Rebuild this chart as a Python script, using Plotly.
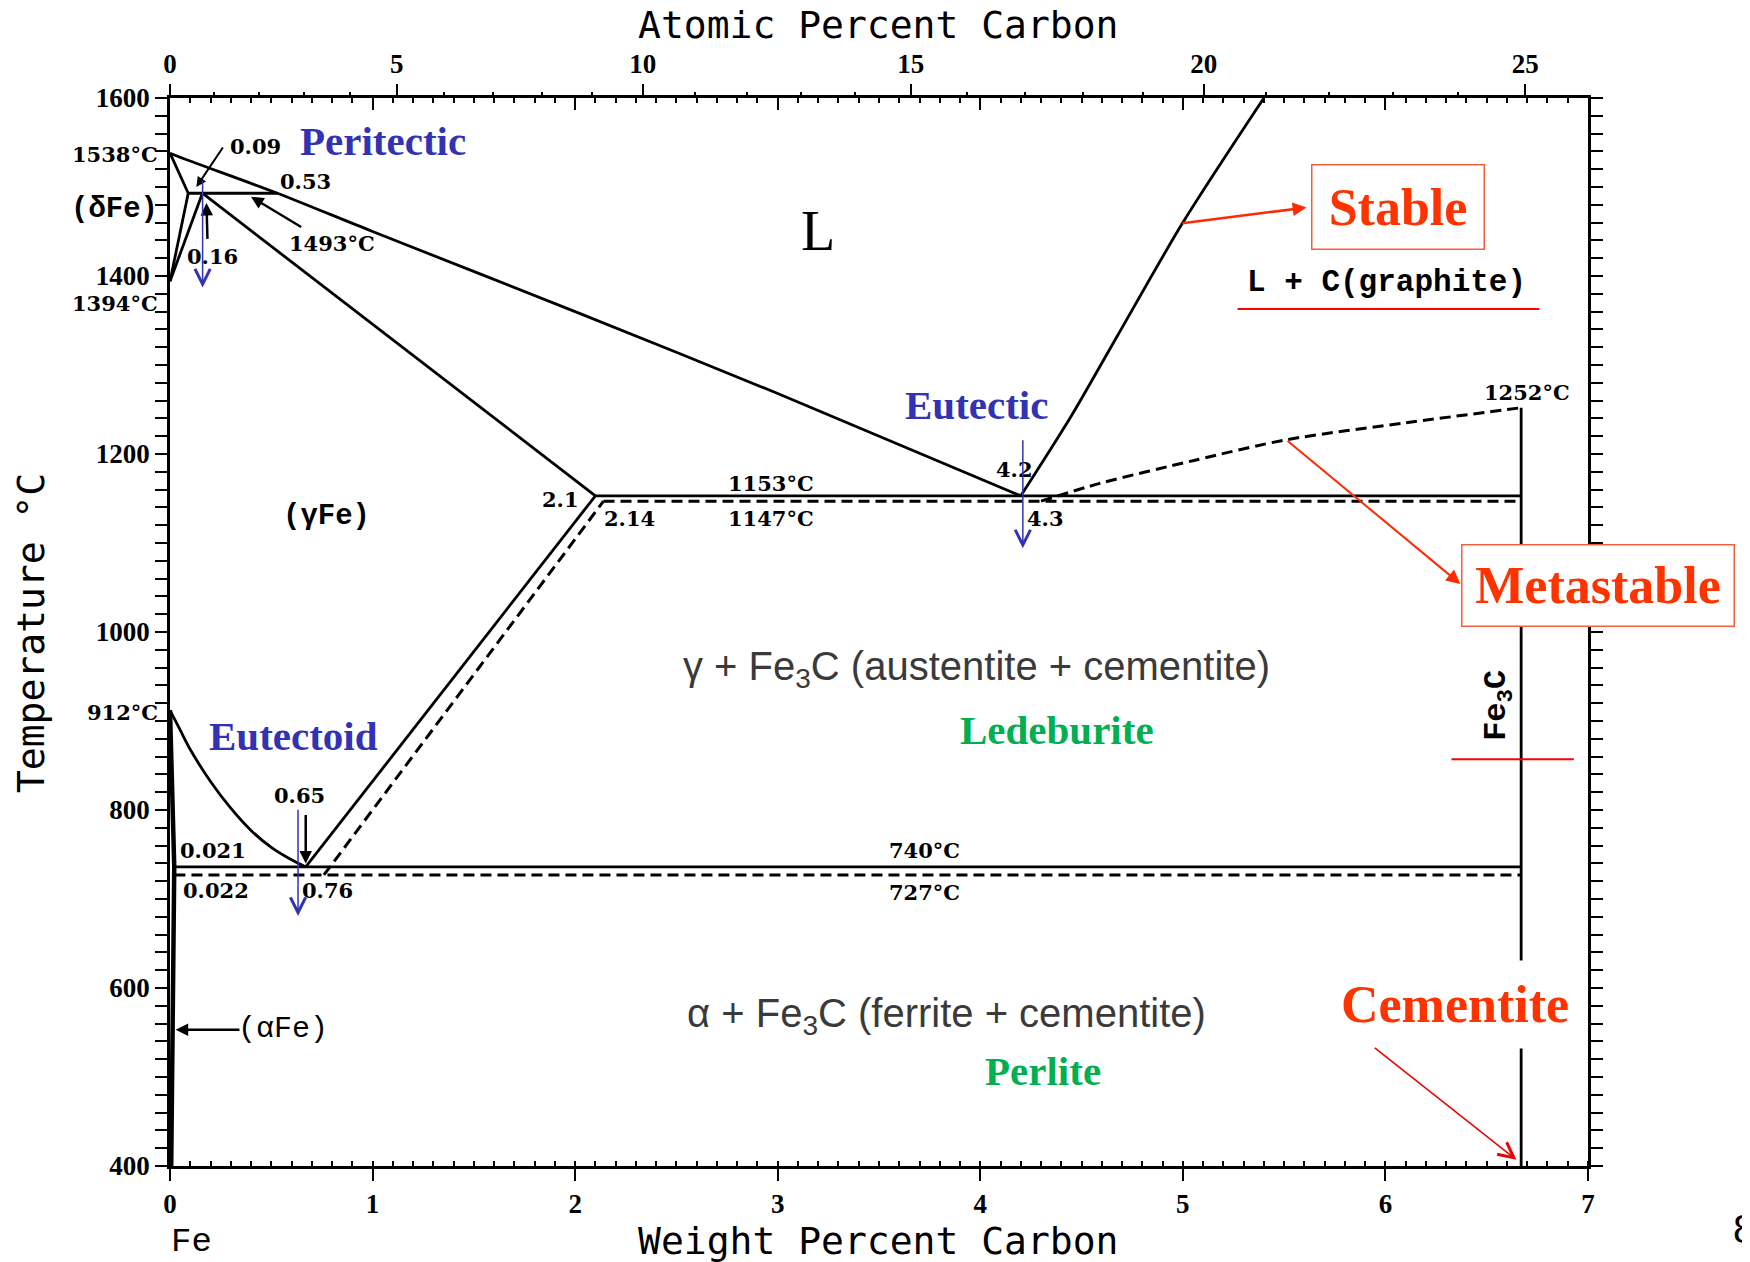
import plotly.graph_objects as go

# ---------------- phase-boundary data (weight % C, temperature in °C) ----------------
# stable system (solid lines)
liquidus_wt = [0.0, 0.09, 0.53, 1.0, 2.0, 3.0, 4.2]
liquidus_T = [1538, 1530, 1493, 1450, 1360, 1268, 1153]
delta_solidus_wt = [0.0, 0.09]
delta_solidus_T = [1538, 1493]
delta_solvus_wt = [0.0, 0.09]
delta_solvus_T = [1394, 1493]
gamma_delta_wt = [0.0, 0.16]
gamma_delta_T = [1394, 1493]
peritectic_wt = [0.09, 0.53]
peritectic_T = [1493, 1493]
gamma_solidus_wt = [0.16, 2.1]
gamma_solidus_T = [1493, 1153]
eutectic_st_wt = [2.1, 6.67]
eutectic_st_T = [1153, 1153]
graphite_liq_wt = [4.2, 4.45, 4.68, 5.0, 5.4]
graphite_liq_T = [1153, 1243, 1334, 1460, 1600]
acm_st_wt = [0.67, 2.1]
acm_st_T = [736, 1153]
a3_wt = [0.0, 0.05, 0.1, 0.2, 0.3, 0.4, 0.5, 0.6, 0.67]
a3_T = [912, 890, 868, 832, 802, 777, 758, 744, 736]
eutectoid_st_wt = [0.021, 6.67]
eutectoid_st_T = [736, 736]
alpha_wt = [0.0, 0.021, 0.006]
alpha_T = [912, 736, 400]
fe3c_wt = [6.67, 6.67]
fe3c_T = [400, 1252]

# metastable system (dashed lines)
eutectic_ms_wt = [2.14, 6.67]
eutectic_ms_T = [1147, 1147]
fe3c_liq_wt = [4.3, 4.59, 5.06, 5.51, 6.1, 6.67]
fe3c_liq_T = [1147, 1167, 1193, 1216, 1235, 1252]
acm_ms_wt = [0.76, 2.14]
acm_ms_T = [727, 1147]
eutectoid_ms_wt = [0.022, 6.67]
eutectoid_ms_T = [727, 727]

# axes
wt_ticks = [0, 1, 2, 3, 4, 5, 6, 7]
T_ticks = [400, 600, 800, 1000, 1200, 1400, 1600]
at_major = [0, 5, 10, 15, 20, 25]
at_minor = list(range(0, 27))

M_C, M_FE = 12.011, 55.845


def at_to_wt(a):
    return 100.0 * a * M_C / (a * M_C + (100.0 - a) * M_FE)


solid = [(liquidus_wt, liquidus_T, "spline"), (delta_solidus_wt, delta_solidus_T, "linear"),
         (delta_solvus_wt, delta_solvus_T, "linear"), (gamma_delta_wt, gamma_delta_T, "linear"),
         (peritectic_wt, peritectic_T, "linear"), (gamma_solidus_wt, gamma_solidus_T, "linear"),
         (eutectic_st_wt, eutectic_st_T, "linear"), (graphite_liq_wt, graphite_liq_T, "spline"),
         (acm_st_wt, acm_st_T, "linear"), (a3_wt, a3_T, "spline"),
         (eutectoid_st_wt, eutectoid_st_T, "linear"), (fe3c_wt, fe3c_T, "linear")]
dashed = [(eutectic_ms_wt, eutectic_ms_T, "linear"), (fe3c_liq_wt, fe3c_liq_T, "spline"),
          (acm_ms_wt, acm_ms_T, "linear"), (eutectoid_ms_wt, eutectoid_ms_T, "linear")]

fig = go.Figure()
for xs, ys, shp in solid:
    fig.add_trace(go.Scatter(x=xs, y=ys, mode="lines",
                             line=dict(color="black", width=2.8, shape=shp, smoothing=0.8),
                             hoverinfo="skip", showlegend=False))
fig.add_trace(go.Scatter(x=alpha_wt, y=alpha_T, mode="lines", line=dict(color="black", width=4.5),
                         hoverinfo="skip", showlegend=False))
for xs, ys, shp in dashed:
    fig.add_trace(go.Scatter(x=xs, y=ys, mode="lines",
                             line=dict(color="black", width=3, dash="11px,6px", shape=shp,
                                       smoothing=0.8),
                             hoverinfo="skip", showlegend=False))
# dummy traces so that the top (atomic %) axes are drawn
for ax in ["x2", "x3", "x4"]:
    fig.add_trace(go.Scatter(x=[None], y=[None], xaxis=ax, yaxis="y", showlegend=False,
                             hoverinfo="skip"))

TICKFONT = dict(family="Liberation Serif", size=27, color="black", weight="bold")
# the page body adds an 8px offset; margins compensate so that the plot area
# sits at x 170-1588, y 98-1166 of the window
fig.update_layout(
    width=1750, height=1262,
    margin=dict(l=162, r=170, t=90, b=104),
    plot_bgcolor="white", paper_bgcolor="white", showlegend=False,
    xaxis=dict(range=[0, 7], tickvals=wt_ticks, ticks="outside", ticklen=12, tickwidth=2,
               tickcolor="black", showline=True, linecolor="black", linewidth=2.5,
               showgrid=False, zeroline=False, tickfont=TICKFONT,
               minor=dict(ticks="inside", ticklen=5, tickwidth=1.5, dtick=0.1, tickcolor="black")),
    yaxis=dict(range=[400, 1600], tickvals=T_ticks, ticks="outside", ticklen=12, tickwidth=2,
               tickcolor="black", showline=True, linecolor="black", linewidth=2.5,
               mirror="allticks", showgrid=False, zeroline=False, tickfont=TICKFONT,
               minor=dict(ticks="outside", ticklen=5, tickwidth=1.5, dtick=20, tickcolor="black")),
    xaxis2=dict(range=[0, 7], overlaying="x", side="top", anchor="y",
                tickvals=[at_to_wt(a) for a in at_major], ticktext=[str(a) for a in at_major],
                ticks="outside", ticklen=11, tickwidth=2, tickcolor="black",
                showline=True, linecolor="black", linewidth=2.5, showgrid=False, zeroline=False,
                tickfont=TICKFONT),
    xaxis3=dict(range=[0, 7], overlaying="x", side="top", anchor="y",
                tickvals=[at_to_wt(a) for a in at_minor], showticklabels=False,
                ticks="outside", ticklen=5, tickwidth=1.5, tickcolor="black",
                showline=False, showgrid=False, zeroline=False),
    xaxis4=dict(range=[0, 7], overlaying="x", side="top", anchor="y",
                tickvals=wt_ticks, showticklabels=False,
                ticks="inside", ticklen=12, tickwidth=2, tickcolor="black",
                showline=False, showgrid=False, zeroline=False,
                minor=dict(ticks="inside", ticklen=5, tickwidth=1.5, dtick=0.1, tickcolor="black")),
)

BLUE = "#3232B4"
GREEN = "#00B050"
RED = "#FF3300"
GRAY = "#3A3A3A"
SMALL = dict(family="DejaVu Serif", size=21, color="black")
BIGB = dict(family="Liberation Serif", size=41, color=BLUE)

# (text, x[wt%], y[°C], font)
labels = [
    ("<b>0.09</b>", 0.42, 1546, SMALL),
    ("<b>0.53</b>", 0.667, 1506, SMALL),
    ("<b>1493°C</b>", 0.80, 1437, SMALL),
    ("<b>0.16</b>", 0.21, 1422, SMALL),
    ("<b>2.1</b>", 1.93, 1149, SMALL),
    ("<b>2.14</b>", 2.27, 1127, SMALL),
    ("<b>1153°C</b>", 2.966, 1167, SMALL),
    ("<b>1147°C</b>", 2.966, 1127, SMALL),
    ("<b>4.2</b>", 4.17, 1183, SMALL),
    ("<b>4.3</b>", 4.32, 1127, SMALL),
    ("<b>1252°C</b>", 6.70, 1269, SMALL),
    ("<b>0.65</b>", 0.64, 816, SMALL),
    ("<b>0.021</b>", 0.21, 754, SMALL),
    ("<b>0.022</b>", 0.226, 710, SMALL),
    ("<b>0.76</b>", 0.777, 710, SMALL),
    ("<b>740°C</b>", 3.725, 754, SMALL),
    ("<b>727°C</b>", 3.725, 707, SMALL),
    ("<b>Peritectic</b>", 1.05, 1552, BIGB),
    ("<b>Eutectic</b>", 3.98, 1255, BIGB),
    ("<b>Eutectoid</b>", 0.61, 883, BIGB),
    ("<b>Ledeburite</b>", 4.38, 890, dict(family="Liberation Serif", size=41, color=GREEN)),
    ("<b>Perlite</b>", 4.31, 507, dict(family="Liberation Serif", size=41, color=GREEN)),
    ("L", 3.20, 1451, dict(family="Liberation Serif", size=56, color="black")),
    ("<b>(γFe)</b>", 0.771, 1130, dict(family="Liberation Mono", size=29, color="black")),
    ("(αFe)", 0.556, 554, dict(family="Liberation Mono", size=30, color="black")),
    ("<b>L + C(graphite)</b>", 6.007, 1393, dict(family="Liberation Mono", size=31, color="black")),
    ("γ + Fe<sub>3</sub>C (austentite + cementite)", 3.98, 958,
     dict(family="Liberation Sans", size=40, color=GRAY)),
    ("α + Fe<sub>3</sub>C (ferrite + cementite)", 3.835, 569,
     dict(family="Liberation Sans", size=40, color=GRAY)),
]
for text, x, y, font in labels:
    fig.add_annotation(text=text, x=x, y=y, xref="x", yref="y", xanchor="center",
                       yanchor="middle", showarrow=False, font=font)

# Fe3C rotated label
fig.add_annotation(text="<b>Fe<sub>3</sub>C</b>", x=6.56, y=918, xref="x", yref="y", showarrow=False,
                   xanchor="center", yanchor="middle", textangle=-90,
                   font=dict(family="Liberation Mono", size=32, color="black"))

# boxed red labels
fig.add_annotation(text="<b>Stable</b>", x=6.06, y=1477, xref="x", yref="y", showarrow=False,
                   xanchor="center", yanchor="middle",
                   font=dict(family="Liberation Serif", size=52, color=RED),
                   bgcolor="white", bordercolor="#F0603C", borderwidth=1.5, borderpad=0,
                   width=171, height=83)
fig.add_annotation(text="<b>Cementite</b>", x=6.345, y=581, xref="x", yref="y", showarrow=False,
                   xanchor="center", yanchor="middle",
                   font=dict(family="Liberation Serif", size=52, color=RED),
                   bgcolor="white", width=258, height=85)


# labels outside the plotting area (paper coordinates, same linear mapping as the axes)
def px(w):
    return w / 7.0


def py(t):
    return (t - 400.0) / 1200.0


fig.add_annotation(text="<b>Metastable</b>", x=px(7.05), y=py(1052),
                   xref="paper", yref="paper", showarrow=False, xanchor="center", yanchor="middle",
                   font=dict(family="Liberation Serif", size=52, color=RED),
                   bgcolor="white", bordercolor="#F0603C", borderwidth=1.5, borderpad=0,
                   width=271, height=80)

outside = [
    ("<b>1538°C</b>", -0.05, 1536, SMALL),
    ("<b>1394°C</b>", -0.05, 1369, SMALL),
    ("<b>912°C</b>", -0.05, 910, SMALL),
    ("<b>(δFe)</b>", -0.05, 1475, dict(family="Liberation Mono", size=29, color="black")),
]
for text, x, y, font in outside:
    fig.add_annotation(text=text, x=px(x), y=py(y), xref="paper", yref="paper", xanchor="right",
                       yanchor="middle", showarrow=False, font=font)

TITLE = dict(family="DejaVu Sans Mono", size=38, color="black")
paper_texts = [
    ("Atomic Percent Carbon", 0.499, 1.068, 0, TITLE),
    ("Weight Percent Carbon", 0.499, -0.070, 0, TITLE),
    ("Temperature °C", -0.098, 0.499, -90, TITLE),
    ("Fe", 0.0155, -0.071, 0, dict(family="Liberation Mono", size=34, color="black")),
]
for text, x, y, ang, font in paper_texts:
    fig.add_annotation(text=text, x=x, y=y, xref="paper", yref="paper", xanchor="center",
                       yanchor="middle", textangle=ang, showarrow=False, font=font)
fig.add_annotation(text="8", x=1.1005, y=-0.059, xref="paper", yref="paper", xanchor="left",
                   yanchor="middle", showarrow=False,
                   font=dict(family="Liberation Sans", size=40, color="black"))

# arrows: (head x, head y, tail x, tail y, color, width, head style, size)
arrows = [
    (0.13, 1500, 0.266, 1546, "black", 2, 2, 1.0),      # 0.09
    (0.40, 1489, 0.655, 1454, "black", 2.5, 2, 1.0),    # 1493°C
    (0.18, 1482, 0.185, 1440, "black", 2.5, 2, 1.0),    # 0.16
    (0.67, 740, 0.67, 796, "black", 2.5, 2, 1.0),       # 0.65
    (0.028, 553, 0.35, 553, "black", 2.5, 2, 1.0),      # (αFe)
    (0.161, 1387, 0.161, 1509, BLUE, 1.5, 5, 2.0),      # peritectic
    (4.21, 1094, 4.21, 1217, BLUE, 1.5, 5, 2.0),        # eutectic
    (0.632, 681, 0.632, 802, BLUE, 1.5, 5, 2.0),        # eutectoid
    (5.61, 1477, 4.99, 1459, "#FF2A00", 2.5, 2, 1.1),   # Stable
    (6.37, 1054, 5.51, 1216, "#FF2A00", 2, 2, 1.4),     # Metastable
    (6.647, 407, 5.94, 534, "#EE0000", 1.5, 5, 2.0),    # Cementite
]
for hx, hy, tx, ty, col, w, head, size in arrows:
    fig.add_annotation(text="", x=hx, y=hy, ax=tx, ay=ty, xref="x", yref="y", axref="x", ayref="y",
                       showarrow=True, arrowhead=head, arrowsize=size, arrowwidth=w, arrowcolor=col)

# red underlines
fig.add_shape(type="line", x0=5.27, x1=6.76, y0=1363, y1=1363, xref="x", yref="y",
              line=dict(color="#FF0000", width=2))
fig.add_shape(type="line", x0=6.326, x1=6.93, y0=857, y1=857, xref="x", yref="y",
              line=dict(color="#FF0000", width=1.8))

fig.write_html("out.html")
